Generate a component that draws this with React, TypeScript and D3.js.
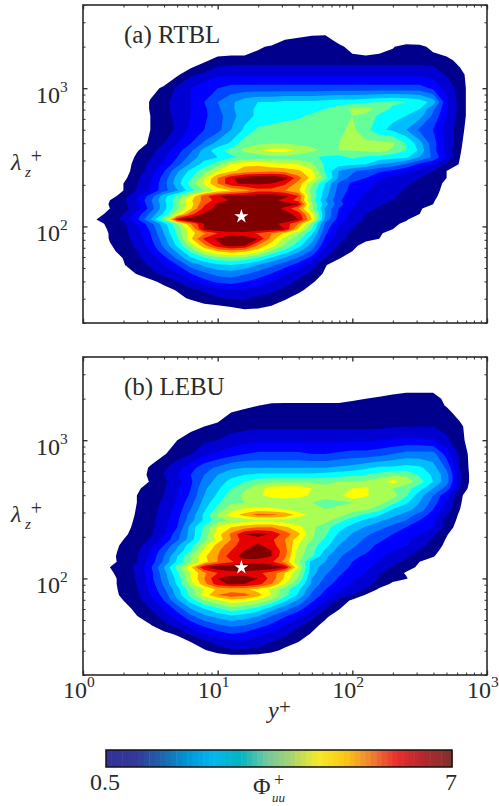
import { useRef, useEffect } from 'react';
import * as d3 from 'd3';

// log10(y+) of each grid column
const columnExp = d3.range(1, 30).map((i) => i / 10);

const levels = [0.5, 1, 1.5, 2, 2.5, 3, 3.5, 4, 4.5, 5, 5.5, 6, 6.5, 7];
const levelColors = ['#00008c', '#0000d2', '#0000ff', '#0046ff', '#0080ff', '#00bdff', '#00ffff', '#64ff9b', '#aaff55', '#ffff00', '#ffaa00', '#ff5500', '#e60000', '#800000'];

const rowExpA = [3.5, 3.4, 3.35, 3.3, 3.2, 3.1, 3.0, 2.9, 2.85, 2.8, 2.7, 2.6, 2.55, 2.5, 2.45, 2.4, 2.35, 2.31, 2.26, 2.22, 2.19, 2.16, 2.13, 2.09, 2.05, 2.02, 1.98, 1.95, 1.91, 1.86, 1.82, 1.77, 1.72, 1.66, 1.6, 1.54, 1.48, 1.44, 1.4, 1.35];
const valuesA = [
  [0],
  [0, 0, 0, 0, 0, 0, 0, 0, 0, 0, 0, 0, 0, 0, 0, 0, .3, .35],
  [0, 0, 0, 0, 0, 0, 0, 0, 0, 0, 0, 0, 0, 0, .5, .7, .8, .8, .2],
  [0, 0, 0, 0, 0, 0, 0, 0, 0, 0, 0, 0, .4, .6, .8, .8, .8, .8, .7, .2, 0, .2, .45, .8, .7, .3],
  [0, 0, 0, 0, 0, 0, 0, 0, .4, .7, .8, .8, .8, .8, .8, .8, .8, .8, .8, .8, .8, .8, .8, .8, .8, .8, .7, .3],
  [0, 0, 0, 0, 0, 0, .4, .9, 1.1, 1.4, 1.4, 1.4, 1.4, 1.4, 1.4, 1.4, 1.4, 1.4, 1.4, 1.4, 1.4, 1.4, 1.4, 1.4, 1.4, 1.3, .95, .7, .1],
  [0, 0, 0, 0, .3, .6, 1.1, 1.5, 1.9, 2, 2.2, 2.2, 2.2, 2.2, 2.2, 2.2, 2.2, 2.2, 2.2, 2.2, 2.2, 2.2, 2.2, 2.2, 2.2, 1.9, 1.3, .8, .1],
  [0, 0, 0, 0, .55, .85, 1.2, 1.5, 2, 2.5, 2.9, 3.3, 3.5, 3.5, 3.6, 3.6, 3.6, 3.7, 3.8, 3.8, 3.9, 4, 4.1, 4, 3.8, 3.3, 1.6, .8, .1],
  [0, 0, 0, 0, .55, .85, 1.2, 1.5, 1.9, 2.4, 2.9, 3.3, 3.6, 3.6, 3.7, 3.7, 3.8, 4, 4.2, 4.6, 4.7, 4.3, 3.9, 3.7, 3.5, 2.6, 1.6, .8, .1],
  [0, 0, 0, 0, .5, .8, 1.15, 1.5, 1.9, 2.3, 2.8, 3.3, 3.6, 3.7, 3.8, 3.9, 4.1, 4.2, 4.3, 4.5, 4.4, 3.9, 3.6, 3.5, 3.2, 2.4, 1.5, .8, .1],
  [0, 0, 0, 0, .5, .7, 1.1, 1.6, 2, 2.3, 3, 3.6, 4.1, 4.2, 4.3, 4.3, 4.3, 4.3, 4.4, 4.6, 4.2, 3.6, 3.4, 3, 2.4, 2, 1.3, .7, .05],
  [0, 0, 0, .2, .6, 1, 1.5, 2, 2.6, 3.2, 3.6, 4.3, 4.4, 4.5, 4.5, 4.4, 4.4, 4.4, 4.5, 4.5, 4.6, 4.7, 4.6, 4, 3.2, 2.2, 1.4, .6],
  [0, 0, .1, .45, .85, 1.2, 1.8, 2.4, 3.2, 3.8, 4.2, 4.6, 4.9, 5.2, 5.2, 4.9, 4.6, 4.4, 4.5, 4.5, 4.6, 4.7, 4.4, 4, 3.4, 2.2, 1.3, .55],
  [0, 0, .1, .6, .95, 1.4, 2, 2.7, 3.3, 3.5, 3.9, 4.1, 4.2, 4.3, 4.3, 4.2, 4.1, 3.9, 3.8, 4.1, 3.9, 3.8, 3.7, 3.6, 3, 2.4, 1.5, .5],
  [0, 0, .2, .7, 1.1, 1.6, 2.3, 3.1, 3.7, 4.3, 5, 5.4, 5.4, 5.2, 5.1, 5, 4.6, 3.9, 3.7, 3.6, 3.5, 3, 2.8, 2.4, 1.9, 1.6, .9, .45],
  [0, 0, .25, .75, 1.2, 1.95, 2.9, 3.65, 4.3, 5, 5.4, 5.7, 5.8, 5.9, 5.8, 5.6, 5.1, 3.9, 3, 2.6, 2.3, 2.1, 1.9, 1.6, 1.3, 1, .5, .2],
  [0, 0, .35, .9, 1.4, 2.2, 3.2, 3.95, 4.9, 6, 6.9, 7.3, 7.5, 7.5, 7.2, 6.2, 5.3, 4.2, 2.9, 2.3, 2, 1.6, 1.3, 1.15, 1, .7, .5, .1],
  [0, .1, .5, .95, 1.5, 2.3, 3.3, 4.2, 5.1, 6, 6.9, 7.1, 7.1, 7, 6.6, 5.8, 4.6, 3.5, 2.4, 1.9, 1.6, 1.4, 1.2, 1.05, .9, .7, .4],
  [0, .1, .5, 1.05, 1.55, 2.3, 2.95, 3.8, 4.55, 5.15, 5.5, 5.8, 6.3, 6.3, 6, 5.6, 4.3, 3.3, 2.3, 1.8, 1.55, 1.35, 1.15, .95, .8, .65, .35],
  [0, .25, .75, 1.4, 2.2, 3.3, 4.1, 5.1, 6.3, 6.95, 7.2, 7.3, 7.3, 7.3, 7.2, 6.5, 4.4, 3.2, 2.2, 1.7, 1.4, 1.25, 1.05, .9, .75, .6, .3],
  [.1, .5, .9, 1.5, 2.4, 3.4, 4.3, 5.4, 6.2, 6.7, 7.1, 7.2, 7.2, 7.2, 6.8, 6.3, 4.3, 3, 2.1, 1.6, 1.35, 1.15, 1, .85, .7, .55, .2],
  [.1, .55, .85, 1.4, 2.3, 3.3, 4.3, 5.3, 6.4, 7.1, 7.4, 7.4, 7.4, 7.4, 7.2, 7, 4.6, 3.2, 2.2, 1.6, 1.3, 1.05, .9, .75, .65, .5],
  [.1, .5, .8, 1.25, 2.2, 3.3, 4.4, 5.4, 6.7, 7.2, 7.2, 7.2, 7.2, 7.2, 6.9, 6, 4.6, 2.9, 2, 1.45, 1.15, .95, .85, .7, .55, .3],
  [.25, .7, 1, 1.7, 2.6, 3.6, 4.9, 6.3, 7.1, 7.3, 7.4, 7.4, 7.4, 7.4, 7.2, 6.8, 5.2, 3, 1.9, 1.35, 1, .85, .75, .6, .5, .1],
  [.5, .8, 1.1, 1.9, 3, 4.4, 7, 7.5, 7.5, 7.5, 7.5, 7.5, 7.5, 7.5, 7.5, 7, 5.5, 2.8, 1.8, 1.25, .95, .8, .65, .55, .2],
  [.3, .65, .9, 1.5, 2.3, 3.3, 4.4, 6, 7, 7.3, 7.3, 7.3, 7.3, 7.2, 6.8, 6, 4.3, 2.4, 1.6, 1.1, .85, .7, .6, .4],
  [.15, .6, .85, 1.3, 2.1, 3.1, 4.2, 5.4, 7.1, 7.4, 7.4, 7.4, 7.4, 7.3, 7, 5.4, 4, 2.2, 1.4, 1, .75, .6, .5, .1],
  [.1, .55, .85, 1.3, 2, 3, 4.1, 5.3, 5.9, 6.5, 6.8, 6.8, 6.4, 6, 5.4, 4.6, 3.6, 2.1, 1.3, .9, .7, .55, .35],
  [0, .55, .8, 1.2, 1.9, 2.8, 3.9, 5.4, 6.6, 7.1, 7.3, 7.2, 7, 5.8, 4.8, 4.2, 3.2, 1.9, 1.15, .8, .6, .5, .1],
  [0, .45, .75, 1.1, 1.7, 2.6, 3.6, 4.7, 5.8, 6.8, 7.2, 7, 5.9, 5.2, 4.4, 3.7, 2.8, 1.6, .95, .6, .35],
  [0, .35, .7, 1, 1.5, 2.3, 3.1, 4.1, 5, 5.5, 5.8, 5.6, 5.2, 4.4, 3.8, 3.1, 2.4, 1.3, .8, .5, .1],
  [0, .1, .52, .9, 1.2, 1.8, 2.6, 3.4, 3.9, 4.3, 4.4, 4.3, 3.9, 3.4, 2.9, 2.4, 1.8, 1, .55, .1],
  [0, 0, .45, .85, 1.05, 1.5, 2, 2.7, 3.1, 3.4, 3.5, 3.3, 3, 2.6, 2.2, 1.8, 1.2, .55, .1],
  [0, 0, .1, .55, .85, 1.15, 1.5, 2, 2.4, 2.7, 2.8, 2.6, 2.3, 2, 1.6, 1.2, .9, .4],
  [0, 0, 0, 0, .35, .65, 1, 1.4, 1.8, 2.1, 2.2, 2, 1.8, 1.5, 1.2, .9, .6, .1],
  [0, 0, 0, 0, 0, .3, .55, .85, 1.1, 1.35, 1.5, 1.4, 1.3, 1.1, .9, .7, .2],
  [0, 0, 0, 0, 0, 0, .3, .6, .8, .95, 1.05, 1.05, .9, .8, .6, .2],
  [0, 0, 0, 0, 0, 0, 0, .2, .5, .7, .8, .8, .75, .6, .3],
  [0, 0, 0, 0, 0, 0, 0, 0, 0, 0, .3, .5, .45, .3],
  [0],
];

const rowExpB = [3.4, 3.35, 3.3, 3.25, 3.2, 3.1, 3.0, 2.9, 2.8, 2.75, 2.7, 2.65, 2.6, 2.55, 2.5, 2.46, 2.42, 2.37, 2.32, 2.28, 2.24, 2.2, 2.16, 2.12, 2.08, 2.04, 2.0, 1.96, 1.92, 1.88, 1.84, 1.78, 1.72, 1.66, 1.6, 1.54, 1.48, 1.44, 1.38];
const valuesB = [
  [0],
  [0, 0, 0, 0, 0, 0, 0, 0, 0, 0, 0, 0, 0, 0, 0, 0, 0, 0, 0, 0, 0, 0, .3, .45, .45, .45, .1],
  [0, 0, 0, 0, 0, 0, 0, 0, 0, 0, 0, 0, 0, 0, 0, 0, 0, 0, 0, .35, .5, .7, .8, .8, .8, .8, .3],
  [0, 0, 0, 0, 0, 0, 0, 0, 0, 0, 0, .3, .5, .75, .8, .8, .8, .8, .8, .8, .8, .8, .8, .8, .8, .8, .45],
  [0, 0, 0, 0, 0, 0, 0, 0, 0, 0, .5, .7, .8, .8, .8, .8, .8, .8, .8, .8, .8, .8, .8, .8, .8, .8, .7, .2],
  [0, 0, 0, 0, 0, 0, 0, .3, .5, .7, .8, .85, .9, .9, .9, .9, .9, .9, .9, .9, .9, .9, .95, 1, 1, 1, .85, .65],
  [0, 0, 0, 0, 0, 0, .5, .8, .9, 1, 1.2, 1.3, 1.4, 1.4, 1.4, 1.4, 1.4, 1.4, 1.4, 1.4, 1.4, 1.5, 1.55, 1.6, 1.6, 1.5, 1.1, .7, .1],
  [0, 0, 0, 0, 0, .45, .75, .95, 1.4, 1.6, 1.8, 2, 2.1, 2.1, 2.1, 2.1, 2, 2, 2.1, 2.2, 2.2, 2.3, 2.5, 2.7, 2.7, 2.7, 1.8, .9, .2],
  [0, 0, 0, 0, .6, .9, 1.3, 1.8, 2.3, 2.6, 2.9, 3, 3, 3, 3, 3, 3, 3, 3.1, 3.2, 3.4, 3.6, 3.6, 3.7, 3.6, 3.2, 2.4, 1, .2],
  [0, 0, 0, 0, .7, 1, 1.5, 2, 2.5, 3, 3.3, 3.5, 3.6, 3.6, 3.6, 3.6, 3.6, 3.7, 3.8, 3.9, 4, 4.2, 4.4, 4.4, 3.9, 3.4, 2.7, 1.1, .2],
  [0, 0, 0, .1, .55, .9, 1.3, 1.9, 2.7, 3.2, 3.7, 4, 4.3, 4.4, 4.4, 4.4, 4.4, 4.4, 4.5, 4.5, 4.6, 4.8, 5.2, 4.8, 4.2, 3.5, 2.7, 1.1, .2],
  [0, 0, 0, .4, .75, .95, 1.45, 2, 2.9, 3.4, 4, 4.4, 4.8, 5.2, 5.3, 5.3, 5, 4.6, 4.7, 5, 5.1, 4.6, 4.5, 4.2, 3.7, 3, 2.3, 1, .1],
  [0, 0, 0, .5, .7, 1, 1.5, 2.1, 3, 3.6, 4.3, 4.6, 4.9, 5.2, 5.3, 5.2, 4.9, 4.6, 4.8, 5.5, 5.1, 4.6, 4.7, 4.1, 3.2, 2.5, 1.6, .6, .1],
  [0, 0, 0, .5, .75, 1.1, 1.6, 2.3, 3.2, 3.9, 4.4, 4.5, 4.6, 4.6, 4.6, 4.6, 4.5, 4.4, 4.4, 4.5, 4.6, 4.7, 4.2, 3.6, 3, 2.3, 1.4, .55, .1],
  [0, 0, 0, .55, .8, 1.15, 1.7, 2.5, 3.4, 4.2, 4.8, 5.1, 5.2, 5.1, 5, 4.7, 4.5, 4.5, 4.6, 4.7, 4.6, 4.2, 3.5, 3.2, 2.8, 2, 1.3, .5],
  [0, 0, 0, .6, .8, 1.2, 1.8, 2.7, 3.6, 4.6, 5.2, 5.7, 6.2, 6.1, 5.9, 5.3, 4.8, 4.6, 4.7, 4.3, 3.9, 3.55, 3.2, 2.8, 2.3, 1.8, 1, .4],
  [0, 0, .1, .65, .85, 1.25, 1.9, 2.8, 3.6, 4.3, 4.6, 4.7, 4.8, 4.8, 4.7, 4.6, 4.5, 4.7, 4.2, 3.75, 3.4, 3.1, 2.75, 2.5, 2, 1.6, .85, .35],
  [0, 0, .3, .65, .85, 1.35, 2, 3.2, 4.1, 5.05, 5.5, 5.8, 6, 6, 5.6, 5.2, 4.6, 4.2, 3.7, 3.3, 2.95, 2.65, 2.35, 2, 1.75, 1.5, .75, .25],
  [0, 0, .4, .7, .9, 1.45, 2.3, 3.2, 4.2, 5.3, 6.1, 7, 7.2, 6.9, 6.3, 5.6, 4.6, 4.1, 3.4, 2.95, 2.6, 2.3, 2, 1.8, 1.55, 1.1, .55, .1],
  [0, 0, .5, .75, 1.05, 1.65, 2.4, 3.3, 4.3, 5.2, 6, 6.8, 6.8, 6.6, 6, 5.2, 4.5, 3.9, 3.2, 2.8, 2.4, 2.1, 1.8, 1.6, 1.3, .9, .45],
  [0, .15, .65, .8, 1.3, 2, 2.9, 3.8, 4.8, 5.7, 6.3, 6.8, 7.1, 6.7, 6.1, 5, 4.2, 3.7, 3, 2.65, 2.2, 1.9, 1.7, 1.55, 1.15, .85, .35],
  [0, .25, .7, .9, 1.5, 2.3, 3.1, 4, 5.1, 5.9, 6.5, 7, 7.2, 7, 6.2, 4.8, 4.2, 3.4, 2.8, 2.4, 2.1, 1.75, 1.5, 1.25, .95, .65, .3],
  [0, .3, .75, .95, 1.6, 2.5, 3.5, 4.5, 5.4, 6, 6.8, 7.2, 7.2, 7, 6.1, 4.7, 4.1, 3.1, 2.6, 2.15, 1.9, 1.6, 1.35, 1.05, .8, .55, .1],
  [0, .3, .7, 1, 1.7, 2.6, 3.6, 4.5, 5.3, 6, 6.4, 6.8, 6.8, 6.6, 5.8, 4.6, 3.3, 3, 2.45, 2, 1.7, 1.45, 1.15, .9, .5, .1],
  [0, .5, .8, 1.1, 1.9, 3, 4.2, 5.4, 7, 7.4, 7.5, 7.5, 7.5, 7.4, 7, 5, 3.2, 2.8, 2.3, 1.9, 1.6, 1.3, .95, .7, .4],
  [0, .4, .75, 1.05, 1.8, 2.8, 3.9, 5, 5.9, 6.5, 6.8, 6.8, 6.6, 6.3, 5.5, 4.6, 3.2, 2.6, 2.1, 1.75, 1.5, 1.05, .75, .45],
  [0, .3, .7, 1.05, 1.8, 2.7, 3.7, 5, 6, 7, 7.2, 7.2, 7, 6.3, 5.4, 4.4, 3, 2.4, 1.95, 1.6, 1.35, .95, .7, .55, .1],
  [0, .3, .7, 1, 1.7, 2.6, 3.6, 4.8, 5.8, 6.8, 7.1, 7, 6.7, 6, 5, 4, 2.9, 2.2, 1.8, 1.45, 1.2, .8, .4],
  [0, .3, .65, .95, 1.6, 2.4, 3.3, 4.3, 5, 5.6, 5.7, 5.6, 5.3, 4.9, 4.2, 3.6, 2.6, 2, 1.6, 1.25, .95, .4],
  [0, .3, .6, .9, 1.5, 2.2, 3.2, 4.2, 5.2, 6, 6.3, 6.2, 5.7, 5, 4.2, 3.4, 2.4, 1.8, 1.3, 1, .45],
  [0, 0, .5, .8, 1.3, 2, 2.9, 3.7, 4.5, 4.9, 5.3, 5.2, 4.9, 4.4, 3.6, 2.9, 2.1, 1.5, .85, .4],
  [0, 0, .2, .7, 1, 1.5, 2.2, 3, 3.5, 3.9, 4.3, 4.1, 3.8, 3.2, 2.7, 2.2, 1.6, 1, .55],
  [0, 0, 0, .45, .8, 1.1, 1.7, 2.3, 2.8, 3.1, 3.3, 3.2, 2.9, 2.4, 2, 1.6, 1.1, .6, .1],
  [0, 0, 0, .1, .45, .85, 1.2, 1.7, 2.1, 2.4, 2.6, 2.5, 2.2, 1.9, 1.5, 1.1, .7, .3],
  [0, 0, 0, 0, 0, .35, .6, 1.1, 1.5, 1.8, 2, 1.9, 1.6, 1.4, 1.1, .8, .45],
  [0, 0, 0, 0, 0, 0, .2, .5, .9, 1.2, 1.4, 1.4, 1.2, 1, .8, .5, .1],
  [0, 0, 0, 0, 0, 0, 0, .1, .45, .75, .95, .95, .9, .7, .35],
  [0, 0, 0, 0, 0, 0, 0, 0, .2, .3, .4, .4, .35, .2],
  [0],
];

const colorbarStops = ['#32329a', '#32389a', '#1e64ac', '#0096d6', '#00b9f0', '#00b4c0', '#6ec8a0', '#aad46e', '#f5eb28', '#fac814', '#f08232', '#eb2d2d', '#b4282d', '#82322d'];
const colorbarCells = d3.range(64);
const starY = 15;
const starLambdaA = 118;
const starLambdaB = 120;

const FONT = '"Liberation Serif", "Times New Roman", serif';
const INK = '#2a2a2a';

const App = () => {
  const svgRef = useRef<SVGSVGElement>(null);

  useEffect(() => {
    if (!svgRef.current) return;
    const svg = d3.select(svgRef.current);
    svg.selectAll('*').remove();

    const left = 83, right = 487;
    const x = d3.scaleLog().domain([1, 1000]).range([left, right]);

    const addText = (px, py, str, size, style = 'normal') => {
      return svg.append('text')
        .attr('x', px).attr('y', py)
        .attr('font-family', FONT)
        .attr('font-size', size)
        .attr('font-style', style)
        .attr('fill', INK)
        .text(str);
    };

    // symbol with a subscript and a plus stacked above it, as one text
    const addStacked = (px, py, base, baseStyle, sub, subX, subSize, subDy, plusSize, plusDx, plusDy) => {
      const t = addText(px, py, base, 24, baseStyle);
      t.append('tspan').attr('x', subX).attr('dy', subDy)
        .attr('font-size', subSize).attr('font-style', 'italic').text(sub);
      t.append('tspan').attr('dx', plusDx).attr('dy', plusDy)
        .attr('font-size', plusSize).attr('font-style', 'normal').text('+');
    };

    const drawPanel = (top, bottom, rowExp, values, title, starLambda, showX) => {
      const y = d3.scaleLog().domain([20, 4000]).range([bottom, top]);
      const nx = columnExp.length;
      const ny = rowExp.length;
      const flat: number[] = [];
      values.forEach((row) => {
        for (let i = 0; i < nx; i++) flat.push(row[i] ?? 0);
      });

      // grid index -> data, rows are not evenly spaced
      const colToExp = d3.scaleLinear().domain(columnExp.map((_, i) => i + 0.5)).range(columnExp);
      const rowToExp = d3.scaleLinear().domain(rowExp.map((_, i) => i + 0.5)).range(rowExp);
      const project = d3.geoTransform({
        point(px, py) {
          (this as any).stream.point(x(Math.pow(10, colToExp(px))), y(Math.pow(10, rowToExp(py))));
        },
      });
      const path = d3.geoPath(project);
      const contours = d3.contours().size([nx, ny]).smooth(true).thresholds(levels)(flat);

      const clipId = `clip-${top}`;
      svg.append('clipPath').attr('id', clipId).append('rect')
        .attr('x', left).attr('y', top).attr('width', right - left).attr('height', bottom - top);

      svg.append('g').attr('clip-path', `url(#${clipId})`)
        .selectAll('path')
        .data(contours)
        .join('path')
        .attr('d', (d) => path(d as any))
        .attr('fill', (_, i) => levelColors[i]);

      const star = d3.symbol().type(d3.symbolStar).size(62)();
      svg.append('path').attr('d', star)
        .attr('transform', `translate(${x(starY)},${y(starLambda)})`)
        .attr('fill', '#fff');

      // ticks on all four sides
      const xMajor = [1, 10, 100, 1000];
      const yMajor = [100, 1000];
      const xMinor = x.ticks().filter((t) => !xMajor.includes(t));
      const yMinor = y.ticks().filter((t) => !yMajor.includes(t));
      const axes = [
        { axis: d3.axisBottom(x), tr: `translate(0,${bottom})` },
        { axis: d3.axisTop(x), tr: `translate(0,${top})` },
        { axis: d3.axisLeft(y), tr: `translate(${left},0)` },
        { axis: d3.axisRight(y), tr: `translate(${right},0)` },
      ];
      axes.forEach(({ axis, tr }, i) => {
        const major = i < 2 ? xMajor : yMajor;
        const minor = i < 2 ? xMinor : yMinor;
        [[major, 4.5, 1.3], [minor, 2.5, 1]].forEach(([vals, len, w]: any) => {
          const g = svg.append('g').attr('transform', tr)
            .call(axis.tickValues(vals).tickSize(-len).tickSizeOuter(0).tickFormat(() => ''));
          g.select('.domain').remove();
          g.selectAll('line').attr('stroke', INK).attr('stroke-width', w);
        });
      });

      svg.append('rect')
        .attr('x', left).attr('y', top).attr('width', right - left).attr('height', bottom - top)
        .attr('fill', 'none').attr('stroke', INK).attr('stroke-width', 1.6);

      addText(124, top + 38, title, 25);

      yMajor.forEach((t) => {
        const exp = Math.round(Math.log10(t));
        addText(36, y(t) + 15, '10', 24);
        addText(60, y(t) + 4, String(exp), 15.5);
      });

      addStacked(11, y(1000) + 82, 'λ', 'italic', 'z', 25, 15, 7, 20, 0, -14);

      if (showX) {
        xMajor.forEach((t) => {
          const exp = Math.round(Math.log10(t));
          addText(x(t) - 20, bottom + 23, '10', 24);
          addText(x(t) + 4, bottom + 12, String(exp), 15.5);
        });
      }
    };

    drawPanel(5, 323, rowExpA, valuesA, '(a) RTBL', starLambdaA, false);
    drawPanel(357, 675, rowExpB, valuesB, '(b) LEBU', starLambdaB, true);

    addText(268, 718, 'y', 24, 'italic');
    addText(279, 714, '+', 21);

    // colour bar
    const barX = d3.scaleBand<number>().domain(colorbarCells).range([106, 452]);
    const barColor = d3.scaleLinear<string>()
      .domain(colorbarStops.map((_, i) => (i / (colorbarStops.length - 1)) * 63))
      .range(colorbarStops);
    svg.append('g').selectAll('rect')
      .data(colorbarCells)
      .join('rect')
      .attr('x', (d) => barX(d)!)
      .attr('y', 750)
      .attr('width', barX.bandwidth() + 0.5)
      .attr('height', 17)
      .attr('fill', (d) => barColor(d));
    svg.append('rect')
      .attr('x', 106).attr('y', 750).attr('width', 346).attr('height', 17)
      .attr('fill', 'none').attr('stroke', '#111').attr('stroke-width', 1.5);

    addText(90, 790, '0.5', 24);
    addText(445, 790, '7', 24);
    addStacked(253, 794, 'Φ', 'normal', 'uu', 272, 13, 8, 18, -11, -16);

    return () => { svg.selectAll('*').remove(); };
  }, []);

  return <svg ref={svgRef} width={499} height={806} style={{ position: 'absolute', left: 0, top: 0, display: 'block', background: '#fff' }} />;
};

export default App;
